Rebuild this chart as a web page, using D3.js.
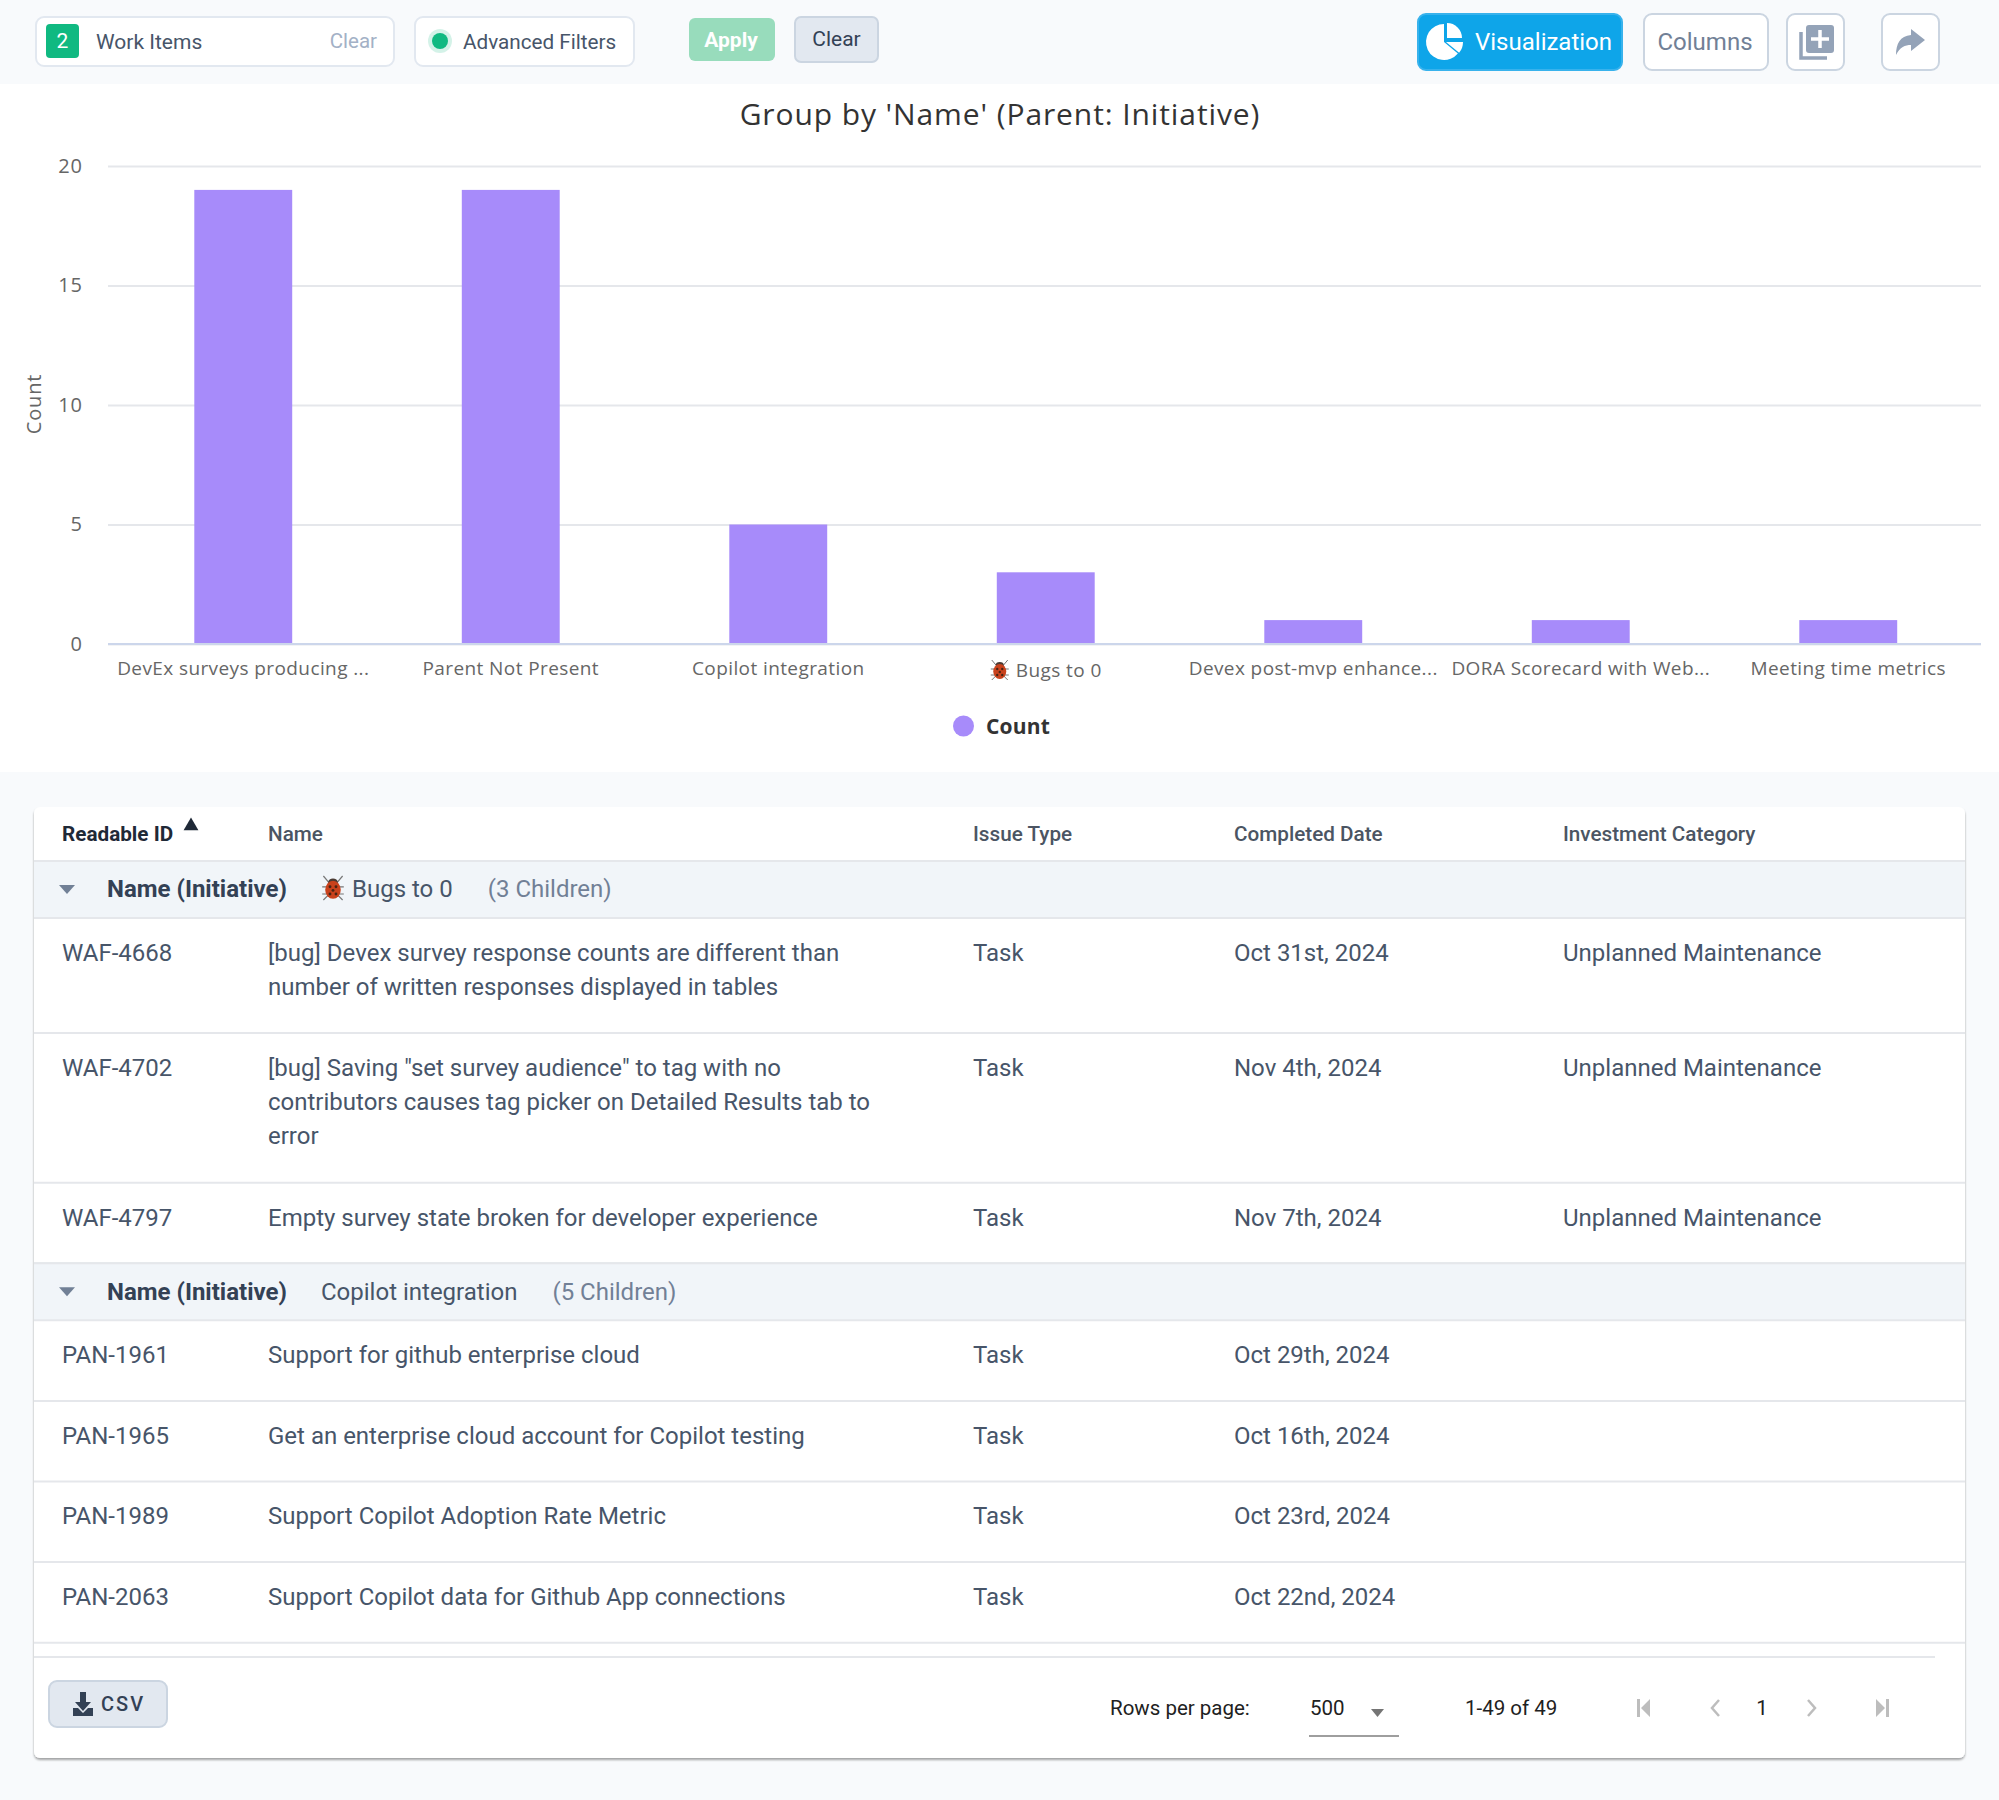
<!DOCTYPE html>
<html lang="en">
<head>
<meta charset="UTF-8">
<title>Group by Name</title>
<script src="https://d3js.org/d3.v7.min.js"></script>
<style>
    html, body { margin: 0; padding: 0; background: #f8fafc; }
    svg { display: block; }
    text { font-family: Roboto, sans-serif; }
    .chart text { font-family: "Open Sans", sans-serif; }
    .axis .domain { display: none; }
</style>
</head>
<body>
<svg id="page" width="1999" height="1800"></svg>
<script>
// chart data
const categories = ['DevEx surveys producing ...', 'Parent Not Present', 'Copilot integration', 'Bugs to 0',
    'Devex post-mvp enhance...', 'DORA Scorecard with Web...', 'Meeting time metrics'];
const counts = [19, 19, 5, 3, 1, 1, 1];
const yTicks = [0, 5, 10, 15, 20];
const bugCategory = 'Bugs to 0';

// table data
const columns = ['Readable ID', 'Name', 'Issue Type', 'Completed Date', 'Investment Category'];
const bugRows = [
    ['WAF-4668', ['[bug] Devex survey response counts are different than', 'number of written responses displayed in tables'], 'Task', 'Oct 31st, 2024', 'Unplanned Maintenance'],
    ['WAF-4702', ['[bug] Saving "set survey audience" to tag with no', 'contributors causes tag picker on Detailed Results tab to', 'error'], 'Task', 'Nov 4th, 2024', 'Unplanned Maintenance'],
    ['WAF-4797', ['Empty survey state broken for developer experience'], 'Task', 'Nov 7th, 2024', 'Unplanned Maintenance']
];
const copilotRows = [
    ['PAN-1961', ['Support for github enterprise cloud'], 'Task', 'Oct 29th, 2024', ''],
    ['PAN-1965', ['Get an enterprise cloud account for Copilot testing'], 'Task', 'Oct 16th, 2024', ''],
    ['PAN-1989', ['Support Copilot Adoption Rate Metric'], 'Task', 'Oct 23rd, 2024', ''],
    ['PAN-2063', ['Support Copilot data for Github App connections'], 'Task', 'Oct 22nd, 2024', '']
];
const groupNames = ['Bugs to 0', 'Copilot integration'];
const groupChildren = ['(3 Children)', '(5 Children)'];
const groupRows = [bugRows, copilotRows];

const svg = d3.select('#page');
const slate = '#334155', rowText = '#475569', muted = '#94a3b8', line = '#e5e7eb';

function label(parent, x, y, str, size, fill, weight, anchor) {
    return parent.append('text').attr('x', x).attr('y', y).attr('dy', '.35em')
        .attr('font-size', size).attr('fill', fill).attr('font-weight', weight || 400)
        .attr('text-anchor', anchor || 'start').text(str);
}

function box(parent, x, y, w, h, r, fill, stroke) {
    return parent.append('rect').attr('x', x + 1).attr('y', y + 1).attr('width', w - 2).attr('height', h - 2)
        .attr('rx', r).attr('fill', fill).attr('stroke', stroke || 'none').attr('stroke-width', 2);
}

function bugIcon(parent, cx, cy, s) {
    const g = parent.append('g').attr('transform', `translate(${cx},${cy}) scale(${s})`);
    g.append('path').attr('d', 'M-8,-10 L-3,-4 M8,-10 L3,-4 M-9,-1 L9,-1 M-9,5 L9,5 M-8,10 L-4,6 M8,10 L4,6')
        .attr('stroke', '#777').attr('stroke-width', 1).attr('fill', 'none');
    g.append('ellipse').attr('cx', 0).attr('cy', -5).attr('rx', 4).attr('ry', 3).attr('fill', '#4a3a33');
    g.append('ellipse').attr('cx', 0).attr('cy', 1.5).attr('rx', 6.5).attr('ry', 7.5).attr('fill', '#c9421c');
    g.selectAll('circle').data([[-2.5, -1], [2.5, -1], [0, 2], [-2.5, 5], [2.5, 5]]).enter().append('circle')
        .attr('cx', d => d[0]).attr('cy', d => d[1]).attr('r', 1.2).attr('fill', '#4a2413');
}

function drawToolbar() {
    const bar = svg.append('g');
    bar.append('rect').attr('width', 1999).attr('height', 84).attr('fill', '#f8fafc');

    box(bar, 35, 16, 360, 51, 8, '#fff', '#e2e8f0');
    box(bar, 45, 23, 35, 36, 4, '#10b981');
    label(bar, 62.5, 41, '2', 21, '#fff', 400, 'middle');
    label(bar, 96, 42, 'Work Items', 21, rowText);
    label(bar, 377, 41, 'Clear', 20.5, '#a3b1c6', 400, 'end');

    box(bar, 414, 16, 221, 51, 8, '#fff', '#e2e8f0');
    bar.append('circle').attr('cx', 440).attr('cy', 41).attr('r', 12).attr('fill', '#10b981').attr('opacity', 0.18);
    bar.append('circle').attr('cx', 440).attr('cy', 41).attr('r', 8).attr('fill', '#10b981');
    label(bar, 463, 42, 'Advanced Filters', 20.7, rowText);

    box(bar, 688, 17, 88, 45, 6, '#98dcbc');
    label(bar, 731, 40, 'Apply', 21, '#fff', 700, 'middle');
    box(bar, 794, 16, 85, 47, 6, '#e2e8f0', '#cbd5e1');
    label(bar, 836.5, 39, 'Clear', 21, slate, 400, 'middle');

    box(bar, 1417, 13, 206, 58, 8, '#0ea5e9', '#38b2ec');
    const pie = bar.append('g').attr('transform', 'translate(1444,42)').attr('fill', '#fff');
    const arc = d3.arc();
    pie.append('path').attr('d', arc({ innerRadius: 0, outerRadius: 18, startAngle: Math.PI * 0.72, endAngle: Math.PI * 2 }));
    pie.append('path').attr('transform', 'translate(3,-4)').attr('d', arc({ innerRadius: 0, outerRadius: 15, startAngle: 0, endAngle: Math.PI / 2 }));
    pie.append('path').attr('transform', 'translate(2,0)').attr('d', arc({ innerRadius: 0, outerRadius: 17, startAngle: Math.PI * 0.5, endAngle: Math.PI * 0.72 }));
    label(bar, 1475, 42, 'Visualization', 24, '#fff');

    box(bar, 1643, 13, 126, 58, 8, '#fff', '#cbd5e1');
    label(bar, 1705, 42, 'Columns', 24, '#718096', 400, 'middle');

    box(bar, 1786, 13, 59, 58, 8, '#fff', '#cbd5e1');
    bar.append('path').attr('d', 'M1801,32 V58 H1827').attr('fill', 'none').attr('stroke', muted).attr('stroke-width', 3.5);
    box(bar, 1805, 24, 30, 30, 3, muted);
    bar.append('path').attr('d', 'M1820,30 V48 M1811,39 H1829').attr('stroke', '#fff').attr('stroke-width', 3.5);

    box(bar, 1881, 13, 59, 58, 8, '#fff', '#cbd5e1');
    bar.append('path').attr('d', 'M1925,40 L1911,29 V35 C1900,36 1896,44 1896,55 C1900,47 1905,45 1911,45 V51 Z').attr('fill', muted);
}

function drawChart() {
    const g = svg.append('g').attr('class', 'chart');
    g.append('rect').attr('y', 84).attr('width', 1999).attr('height', 688).attr('fill', '#fff');

    label(g, 1000, 114, "Group by 'Name' (Parent: Initiative)", 30, '#333', 400, 'middle').attr('letter-spacing', 0.9);

    const x = d3.scaleBand().domain(categories).range([109.5, 1982]).paddingInner(0.634).paddingOuter(0.317);
    const y = d3.scaleLinear().domain([0, 20]).range([644, 166]);

    const yAxis = d3.axisLeft(y).tickValues(yTicks).tickSize(-(1981 - 108)).tickPadding(25);
    const yG = g.append('g').attr('class', 'axis').attr('transform', 'translate(108,0)').call(yAxis);
    yG.selectAll('line').attr('stroke', line).attr('stroke-width', 2);
    yG.selectAll('text').attr('font-size', 20).attr('fill', '#666').attr('letter-spacing', 1);

    g.selectAll('.bar').data(counts).enter().append('rect').attr('class', 'bar')
        .attr('x', (d, i) => x(categories[i])).attr('width', x.bandwidth())
        .attr('y', d => y(d)).attr('height', d => y(0) - y(d)).attr('fill', '#a78bfa');

    const xAxis = d3.axisBottom(x).tickSize(0).tickPadding(18);
    const xG = g.append('g').attr('class', 'axis').attr('transform', 'translate(0,644)').call(xAxis);
    xG.selectAll('text').attr('font-size', 19).attr('fill', '#666').attr('letter-spacing', 0.4);
    xG.selectAll('.tick').filter(d => d === bugCategory).select('text').attr('dx', 13).attr('dy', '.79em');
    g.append('line').attr('x1', 108).attr('x2', 1981).attr('y1', 644).attr('y2', 644)
        .attr('stroke', '#ccd6eb').attr('stroke-width', 2);
    bugIcon(g, x(bugCategory) + x.bandwidth() / 2 - 46, 670, 1);

    label(g, 34, 404, 'Count', 20, '#666', 400, 'middle')
        .attr('transform', 'rotate(-90 34 404)').attr('dy', '.35em').attr('letter-spacing', 0.8);

    g.append('circle').attr('cx', 963.5).attr('cy', 726).attr('r', 10.5).attr('fill', '#a78bfa');
    label(g, 986, 727, 'Count', 21, '#333', 700).attr('letter-spacing', 0.2);
}

function drawTable() {
    const colX = [62, 268, 973, 1234, 1563];
    const rowPad = 46.1, rowLine = 34.5, textLine = 34.2, cell = 24;
    const t = svg.append('g');

    const defs = svg.append('defs');
    defs.append('filter').attr('id', 'card').append('feDropShadow')
        .attr('dx', 0).attr('dy', 2).attr('stdDeviation', 1.2).attr('flood-color', '#000').attr('flood-opacity', 0.35);
    t.append('rect').attr('x', 34).attr('y', 807).attr('width', 1931).attr('height', 951).attr('rx', 6)
        .attr('fill', '#fff').attr('filter', 'url(#card)');

    columns.forEach((c, i) => {
        label(t, colX[i], 834, c, 20.7, i === 0 ? '#1f2937' : '#4b5563', i === 0 ? 700 : 500);
    });
    t.append('path').attr('d', d3.symbol(d3.symbolTriangle, 95)()).attr('transform', 'translate(191,826)').attr('fill', '#1f2937');

    let top = 861;
    hline(t, top);
    groupRows.forEach((rows, gi) => {
        t.append('rect').attr('x', 34).attr('y', top).attr('width', 1931).attr('height', 57).attr('fill', '#f1f5f9');
        hline(t, top);
        const mid = top + 28;
        t.append('path').attr('d', 'M59,' + (mid - 4) + ' h16 l-8,9 Z').attr('fill', '#718096');
        label(t, 107, mid, 'Name (Initiative)', 24, slate, 700);
        let nameX = 321;
        if (groupNames[gi] === bugCategory) {
            bugIcon(t, 333, mid - 1, 1.2);
            nameX = 352;
        }
        const nm = label(t, nameX, mid, groupNames[gi], 24, rowText);
        label(t, nameX + nm.node().getComputedTextLength() + 35, mid, groupChildren[gi], 24, '#718096');
        top += 57;
        hline(t, top);

        rows.forEach(r => {
            const mid1 = top + 34.5;
            label(t, colX[0], mid1, r[0], cell, rowText);
            r[1].forEach((s, i) => label(t, colX[1], mid1 + i * textLine, s, cell, rowText));
            label(t, colX[2], mid1, r[2], cell, rowText);
            label(t, colX[3], mid1, r[3], cell, rowText);
            label(t, colX[4], mid1, r[4], cell, rowText);
            top += rowPad + rowLine * r[1].length;
            hline(t, top);
        });
    });

    // footer
    t.append('line').attr('x1', 34).attr('x2', 1935).attr('y1', 1657).attr('y2', 1657).attr('stroke', line).attr('stroke-width', 2);
    box(t, 48, 1680, 120, 48, 8, '#e2e8f0', '#cbd5e1');
    t.append('path').attr('d', 'M80,1692 h6 v10 h5 l-8,9 l-8,-9 h5 Z M73,1708 h5 l5,5 l5,-5 h5 v8 h-20 Z').attr('fill', slate);
    label(t, 101, 1704, 'CSV', 20, slate, 500).attr('letter-spacing', 2);

    const pager = '#212121', pale = '#bdbdbd';
    label(t, 1110, 1708, 'Rows per page:', 20.5, pager);
    label(t, 1310, 1708, '500', 20.5, pager);
    t.append('path').attr('d', 'M1371,1709 h13 l-6.5,8 Z').attr('fill', '#757575');
    t.append('line').attr('x1', 1309).attr('x2', 1399).attr('y1', 1736).attr('y2', 1736).attr('stroke', '#9e9e9e').attr('stroke-width', 2);
    label(t, 1465, 1708, '1-49 of 49', 20.5, pager);
    label(t, 1762, 1708, '1', 20.5, pager, 400, 'middle');
    t.append('path').attr('d', 'M1637,1699 h3 v18 h-3 Z M1650,1699 v18 l-9,-9 Z').attr('fill', pale);
    t.append('path').attr('d', 'M1719,1700 l-7,8 l7,8').attr('fill', 'none').attr('stroke', pale).attr('stroke-width', 2.5);
    t.append('path').attr('d', 'M1808,1700 l7,8 l-7,8').attr('fill', 'none').attr('stroke', pale).attr('stroke-width', 2.5);
    t.append('path').attr('d', 'M1889,1699 h-3 v18 h3 Z M1876,1699 v18 l9,-9 Z').attr('fill', pale);
}

function hline(parent, y) {
    parent.append('line').attr('x1', 34).attr('x2', 1965).attr('y1', y).attr('y2', y).attr('stroke', line).attr('stroke-width', 2);
}

drawToolbar();
drawChart();
drawTable();
</script>
</body>
</html>
